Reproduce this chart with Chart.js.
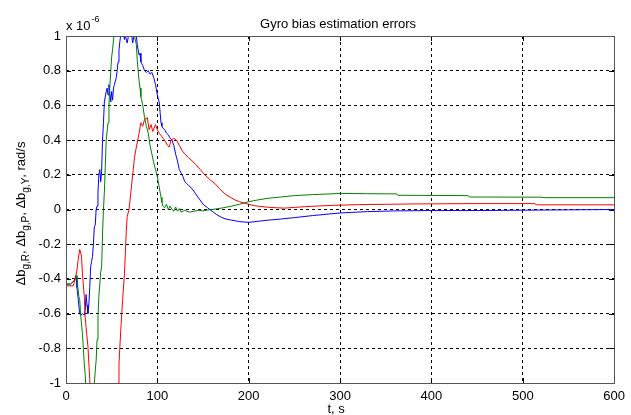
<!DOCTYPE html>
<html>
<head>
<meta charset="utf-8">
<script src="https://cdn.jsdelivr.net/npm/chart.js@4"></script>
<style>
  body { margin: 0; background: #fff; }
  canvas { display: block; }
</style>
</head>
<body>
<canvas id="gyroChart" width="631" height="415"></canvas>
<script>
// time axis ticks (s) and value ticks (x 1e-6 rad/s)
const xTicks = [0, 100, 200, 300, 400, 500, 600];
const yTicks = [-1, -0.8, -0.6, -0.4, -0.2, 0, 0.2, 0.4, 0.6, 0.8, 1];

// roll axis (blue)
const tBlue = [0, 5, 9, 11, 12, 13, 15, 16, 18, 20, 21, 22, 23, 24, 25, 26, 27, 28, 29, 30,
  31, 32, 33, 34, 35, 36, 37, 38, 39, 40, 41, 42, 44, 45, 46, 47, 48, 49, 50, 51,
  52, 53, 55, 56, 57, 58, 59, 60, 62, 64, 65, 67, 68, 70, 72, 73, 75, 77, 78, 79,
  80, 81, 82, 84, 86, 88, 90, 92, 94, 96, 98, 100, 101, 102, 103, 104, 105, 106, 108, 110,
  112, 114, 116, 118, 120, 122, 124, 126, 128, 130, 132, 134, 138, 142, 146, 150, 155, 160, 165, 170,
  175, 180, 185, 190, 195, 200, 210, 220, 235, 250, 270, 300, 330, 360, 400, 450, 500, 550, 600];
const blue = [-0.43, -0.43, -0.41, -0.39, -0.45, -0.5, -0.6, -0.61, -0.6, -0.61, -0.58, -0.49, -0.55, -0.6, -0.55, -0.45, -0.33, -0.3, -0.27, -0.2,
  -0.1, -0.09, 0, 0.02, 0.1, 0.2, 0.23, 0.16, 0.22, 0.4, 0.5, 0.62, 0.68, 0.7, 0.66, 0.72, 0.67, 0.62, 0.68, 0.63,
  0.7, 0.72, 0.76, 0.8, 0.85, 0.92, 0.97, 1.01, 1.03, 0.98, 1.0, 0.96, 0.99, 1.02, 1.0, 0.96, 1.02, 1.0, 0.95, 0.92,
  0.89, 0.9, 0.85, 0.83, 0.8, 0.79, 0.8, 0.78, 0.79, 0.76, 0.72, 0.66, 0.64, 0.62, 0.56, 0.5, 0.48, 0.47, 0.46, 0.44,
  0.43, 0.41, 0.4, 0.37, 0.32, 0.28, 0.23, 0.21, 0.19, 0.16, 0.15, 0.14, 0.12, 0.09, 0.06, 0.03, 0.01, -0.01, -0.03, -0.045,
  -0.055, -0.06, -0.065, -0.07, -0.072, -0.074, -0.068, -0.062, -0.055, -0.047, -0.035, -0.02, -0.012, -0.008, -0.006, -0.006, -0.004, -0.002, 0];

// pitch axis (green)
const tGreen = [0, 5, 9, 11, 12, 13, 14, 15, 16, 17, 18, 19, 20, 21, 22, 24, 28, 30, 31, 32,
  33, 34, 35, 36, 37, 38, 39, 40, 41, 42, 43, 44, 46, 47, 48, 49, 50, 51, 52, 53,
  56, 62, 68, 73, 75, 77, 78, 79, 80, 81, 82, 84, 86, 88, 90, 92, 94, 96, 98, 100,
  101, 102, 103, 104, 105, 106, 108, 110, 112, 114, 116, 118, 120, 122, 124, 126, 130, 135, 140, 145,
  150, 155, 160, 170, 180, 190, 200, 210, 220, 235, 250, 270, 290, 300, 330, 362, 363, 440, 442, 520,
  524, 600];
const green = [-0.43, -0.43, -0.41, -0.38, -0.4, -0.45, -0.5, -0.52, -0.6, -0.66, -0.72, -0.8, -0.89, -0.95, -1.05, -1.25, -1.3, -1.15, -1.0, -0.93,
  -0.87, -0.75, -0.62, -0.5, -0.43, -0.36, -0.33, -0.14, 0.0, 0.1, 0.25, 0.4, 0.5, 0.6, 0.71, 0.8, 0.88, 0.92, 0.98, 1.02,
  1.1, 1.15, 1.12, 1.05, 1.0, 0.95, 0.86, 0.8, 0.74, 0.7, 0.65, 0.6, 0.53, 0.48, 0.44, 0.37, 0.32, 0.27, 0.23, 0.19,
  0.16, 0.13, 0.1, 0.07, 0.04, 0.02, 0.01, 0.03, 0.0, 0.02, 0.0, -0.01, 0.015, -0.01, 0.005, -0.015, -0.005, -0.015, -0.01, -0.005,
  -0.008, -0.003, 0.0, 0.008, 0.018, 0.03, 0.045, 0.055, 0.064, 0.072, 0.08, 0.086, 0.09, 0.093, 0.091, 0.09, 0.082, 0.08, 0.072, 0.071,
  0.068, 0.068];

// yaw axis (red)
const tRed = [0, 8, 10, 12, 13, 15, 17, 18, 20, 21, 22, 24, 26, 28, 40, 56, 57, 58, 60, 62,
  64, 66, 67, 69, 71, 73, 75, 77, 80, 82, 84, 86, 89, 91, 93, 95, 98, 100, 102, 105,
  109, 111, 113, 115, 118, 121, 124, 127, 130, 134, 138, 142, 147, 152, 158, 163, 168, 174, 180, 185,
  190, 196, 200, 206, 212, 221, 230, 239, 250, 261, 275, 293, 320, 380, 450, 513, 515, 600];
const red = [-0.44, -0.44, -0.4, -0.35, -0.3, -0.23, -0.27, -0.37, -0.5, -0.62, -0.68, -0.79, -0.98, -1.2, -1.35, -1.1, -1.0, -0.89, -0.69, -0.52,
  -0.37, -0.12, -0.04, 0.0, 0.1, 0.2, 0.3, 0.36, 0.44, 0.5, 0.48, 0.52, 0.53, 0.46, 0.49, 0.45, 0.49, 0.46, 0.44, 0.42,
  0.39, 0.37, 0.36, 0.4, 0.41, 0.4, 0.37, 0.34, 0.32, 0.3, 0.28, 0.26, 0.23, 0.2, 0.17, 0.15, 0.12, 0.09, 0.07, 0.055,
  0.045, 0.036, 0.03, 0.022, 0.018, 0.013, 0.01, 0.008, 0.012, 0.016, 0.02, 0.024, 0.028, 0.032, 0.034, 0.034, 0.027, 0.027];

function pts(t, v) {
  return t.map((x, i) => ({ x: x, y: v[i] }));
}

const FONT = 'Liberation Sans, Arial, sans-serif';
const tickFont = { family: FONT, size: 13 };

// title, axis labels, exponent and the axes box, MATLAB style
const decorations = {
  id: 'decorations',
  afterDraw(chart) {
    const ctx = chart.ctx;
    const a = chart.chartArea;
    const xs = chart.scales.x, ys = chart.scales.y;
    ctx.save();

    // inward ticks
    ctx.strokeStyle = '#000';
    ctx.lineWidth = 1;
    ctx.setLineDash([]);
    ctx.beginPath();
    xTicks.forEach(v => {
      const px = Math.round(xs.getPixelForValue(v)) + 0.5;
      ctx.moveTo(px, a.bottom); ctx.lineTo(px, a.bottom - 5);
      ctx.moveTo(px, a.top); ctx.lineTo(px, a.top + 5);
    });
    yTicks.forEach(v => {
      const py = Math.round(ys.getPixelForValue(v)) + 0.5;
      ctx.moveTo(a.left, py); ctx.lineTo(a.left + 5, py);
      ctx.moveTo(a.right, py); ctx.lineTo(a.right - 5, py);
    });
    ctx.stroke();

    // box
    ctx.strokeStyle = '#555';
    ctx.strokeRect(Math.round(a.left) + 0.5, Math.round(a.top) + 0.5,
      Math.round(a.right - a.left), Math.round(a.bottom - a.top));

    ctx.fillStyle = '#000';
    // title
    ctx.font = '13px ' + FONT;
    ctx.textAlign = 'center';
    ctx.textBaseline = 'alphabetic';
    ctx.fillText('Gyro bias estimation errors', (a.left + a.right) / 2 - 2, 28);

    // x label
    ctx.fillText('t, s', (a.left + a.right) / 2 - 4, 413);

    // exponent
    ctx.textAlign = 'left';
    ctx.font = '13px ' + FONT;
    ctx.fillText('x 10', a.left, 30);
    const w = ctx.measureText('x 10').width;
    ctx.font = '9px ' + FONT;
    ctx.fillText('-6', a.left + w + 1, 22);

    // y label with subscripts
    const parts = [
      ['\u0394b', 0], ['g,R', 1], [', \u0394b', 0], ['g,P', 1],
      [', \u0394b', 0], ['g,Y', 1], [', rad/s', 0]
    ];
    const mainFont = '13px ' + FONT;
    const subFont = '10px ' + FONT;
    let total = 0;
    parts.forEach(p => { ctx.font = p[1] ? subFont : mainFont; total += ctx.measureText(p[0]).width; });
    ctx.translate(25, (a.top + a.bottom) / 2 + 4);
    ctx.rotate(-Math.PI / 2);
    let cx = -total / 2;
    parts.forEach(p => {
      ctx.font = p[1] ? subFont : mainFont;
      ctx.fillText(p[0], cx, p[1] ? 4 : 0);
      cx += ctx.measureText(p[0]).width;
    });
    ctx.restore();
  }
};

const ctx = document.getElementById('gyroChart').getContext('2d');
const gyroChart = new Chart(ctx, {
  type: 'line',
  data: {
    datasets: [
      { label: 'R', data: pts(tRed, red), borderColor: '#ff0000', order: 1 },
      { label: 'P', data: pts(tGreen, green), borderColor: '#008000', order: 2 },
      { label: 'Y', data: pts(tBlue, blue), borderColor: '#0000ff', order: 3 }
    ]
  },
  options: {
    responsive: false,
    animation: false,
    devicePixelRatio: 1,
    layout: { padding: { top: 36, right: 11, left: 0, bottom: 0 } },
    elements: {
      point: { radius: 0 },
      line: { borderWidth: 1, tension: 0, fill: false }
    },
    plugins: {
      legend: { display: false },
      tooltip: { enabled: false }
    },
    scales: {
      x: {
        type: 'linear',
        min: 0,
        max: 600,
        afterFit: s => { s.height = 32; },
        afterBuildTicks: s => { s.ticks = xTicks.map(v => ({ value: v })); },
        ticks: { color: '#000', font: tickFont, padding: 6, maxRotation: 0, callback: v => String(v) },
        grid: { color: '#000', drawTicks: false, lineWidth: 1 },
        border: { display: false, dash: [3, 3] }
      },
      y: {
        type: 'linear',
        min: -1,
        max: 1,
        afterFit: s => { s.width = 66; },
        afterBuildTicks: s => { s.ticks = yTicks.map(v => ({ value: v })); },
        ticks: { color: '#000', font: tickFont, padding: 5, callback: v => String(Math.round(v * 10) / 10) },
        grid: { color: '#000', drawTicks: false, lineWidth: 1 },
        border: { display: false, dash: [3, 3] }
      }
    }
  },
  plugins: [decorations]
});
</script>
</body>
</html>
